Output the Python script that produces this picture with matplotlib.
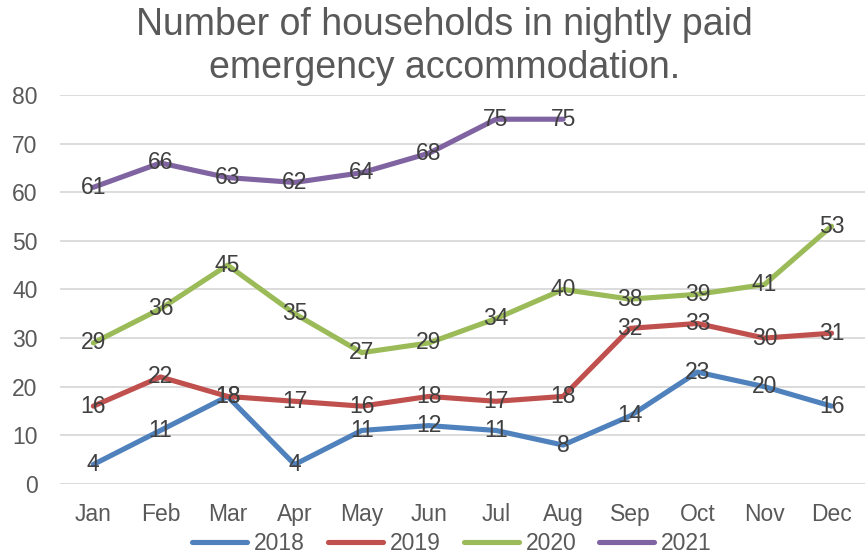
import matplotlib
matplotlib.use("Agg")
import matplotlib.pyplot as plt

months = ["Jan", "Feb", "Mar", "Apr", "May", "Jun", "Jul", "Aug", "Sep", "Oct", "Nov", "Dec"]
y2018 = [4, 11, 18, 4, 11, 12, 11, 8, 14, 23, 20, 16]
y2019 = [16, 22, 18, 17, 16, 18, 17, 18, 32, 33, 30, 31]
y2020 = [29, 36, 45, 35, 27, 29, 34, 40, 38, 39, 41, 53]
y2021 = [61, 66, 63, 62, 64, 68, 75, 75]
series = [("2018", y2018, "#4F81BD"), ("2019", y2019, "#C0504D"),
          ("2020", y2020, "#9BBB59"), ("2021", y2021, "#8064A2")]
title = "Number of households in nightly paid\nemergency accommodation."

plt.rcParams['font.family'] = ['Liberation Sans', 'DejaVu Sans']
fig = plt.figure(figsize=(8.66, 5.55), dpi=100)
ax = fig.add_axes([0.069, 0.128, 0.93, 0.701])

x = list(range(len(months)))
for name, vals, col in series:
    xs = x[:len(vals)]
    ax.plot(xs, vals, color=col, lw=3.7, label=name, solid_capstyle='round', zorder=3)
    for xi, v in zip(xs, vals):
        ax.text(xi, v, str(v), ha='center', va='center', fontsize=16.5, color='#404040', zorder=4)

ax.set_xlim(-0.5, 11.5)
ax.set_ylim(0, 80)
ax.set_yticks(range(0, 81, 10))
ax.set_xticks(x)
ax.set_xticklabels(months)
ax.grid(axis='y', color='#D9D9D9', lw=1.3, zorder=0)
for s in ax.spines.values():
    s.set_visible(False)
ax.tick_params(axis='both', length=0, labelsize=16.5, labelcolor='#595959')
ax.tick_params(axis='x', pad=14)
ax.tick_params(axis='y', pad=16)

fig.text(0.513, 0.988, title, ha='center', va='top', fontsize=27, color='#595959', linespacing=1.25)
fig.legend(loc='lower center', bbox_to_anchor=(0.522, -0.038), ncol=4, frameon=False,
           fontsize=16.5, handlelength=2.4, handletextpad=0.3, columnspacing=1.0,
           labelcolor='#595959')
fig.savefig("out.png", dpi=100)
